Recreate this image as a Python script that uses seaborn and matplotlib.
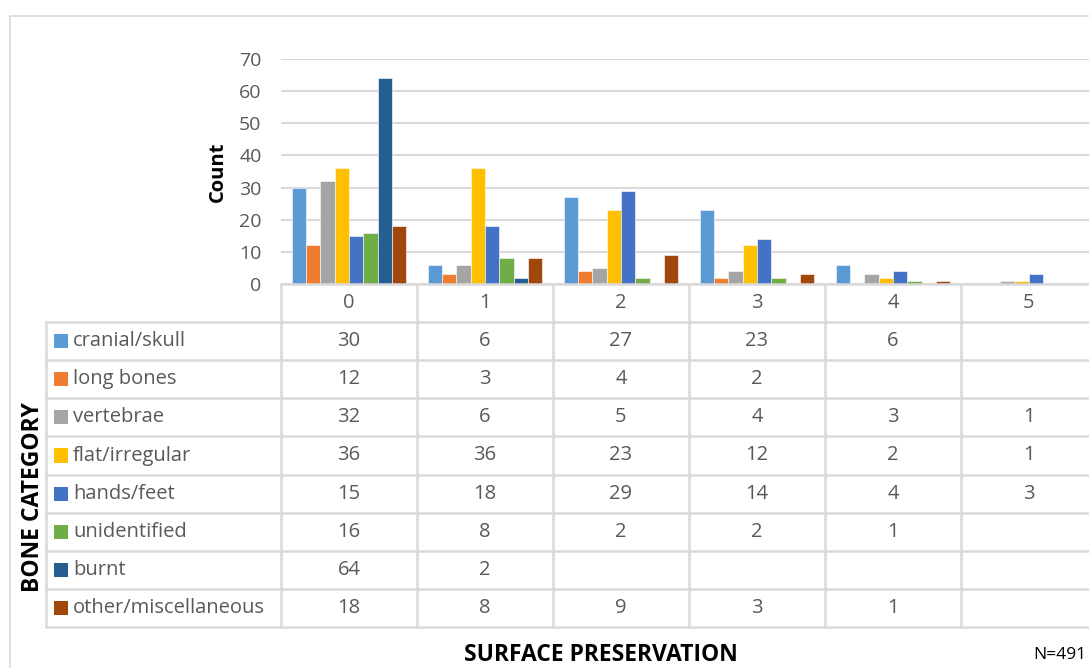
"""
Bone category counts by surface preservation score, bar chart with data table
"""

import matplotlib.pyplot as plt
import seaborn as sns
import numpy as np
import pandas as pd
from matplotlib.patches import Rectangle

# 数据
preservation = ['0', '1', '2', '3', '4', '5']
bone_categories = ['cranial/skull', 'long bones', 'vertebrae', 'flat/irregular',
                   'hands/feet', 'unidentified', 'burnt', 'other/miscellaneous']
cranial_skull = [30, 6, 27, 23, 6, np.nan]
long_bones = [12, 3, 4, 2, np.nan, np.nan]
vertebrae = [32, 6, 5, 4, 3, 1]
flat_irregular = [36, 36, 23, 12, 2, 1]
hands_feet = [15, 18, 29, 14, 4, 3]
unidentified = [16, 8, 2, 2, 1, np.nan]
burnt = [64, 2, np.nan, np.nan, np.nan, np.nan]
other_misc = [18, 8, 9, 3, 1, np.nan]
y_ticks = [0, 10, 20, 30, 40, 50, 60, 70]

series = [cranial_skull, long_bones, vertebrae, flat_irregular,
          hands_feet, unidentified, burnt, other_misc]
colors = ['#5B9BD5', '#ED7D31', '#A5A5A5', '#FFC000',
          '#4472C4', '#70AD47', '#255E91', '#9E480E']

rows = []
for name, vals in zip(bone_categories, series):
    for cat, v in zip(preservation, vals):
        rows.append({'score': cat, 'bone': name, 'count': v})
df = pd.DataFrame(rows)

sns.set_style('white')
plt.rcParams['font.family'] = ['Open Sans', 'DejaVu Sans']
TXT = '#595959'
GRID = '#D9D9D9'

W, H = 1089, 668
fig = plt.figure(figsize=(W / 100, H / 100), dpi=100)

def fx(px):
    return px / W

def fy(py):
    return 1 - py / H

# 外框
fig.patches.append(Rectangle((fx(10), fy(700)), 2, fy(16) - fy(700),
                             transform=fig.transFigure, fill=False,
                             edgecolor=GRID, linewidth=1.2))

# 柱状图
x0, x1 = 281, 1097
ax = fig.add_axes([fx(x0), fy(284), fx(x1) - fx(x0), fy(59) - fy(284)])
sns.barplot(data=df.dropna(), x='score', y='count', hue='bone',
            order=preservation, hue_order=bone_categories, palette=colors,
            saturation=1, width=0.845, gap=0, legend=False, edgecolor='white',
            linewidth=0.4, ax=ax)
ax.set_xlim(-0.5, 5.5)
ax.set_ylim(0, 70)
ax.set_yticks(y_ticks)
ax.set_yticklabels([str(t) for t in y_ticks], fontsize=14, color=TXT)
ax.tick_params(axis='y', length=0, pad=14)
ax.set_xticks([])
ax.set_xlabel('')
ax.set_ylabel('Count', fontsize=14.5, fontweight='bold', color='black', labelpad=8)
ax.grid(axis='y', color=GRID, linewidth=1.5)
ax.set_axisbelow(True)
for s in ax.spines.values():
    s.set_visible(False)
ax.patch.set_alpha(0)

# 数据表
lx = 46
cw = (x1 - x0) / 6
tx0 = -0.5 - (x0 - lx) / cw
tab = fig.add_axes([fx(lx), fy(627), fx(x1) - fx(lx), fy(284) - fy(627)])
tab.set_xlim(tx0, 5.5)
tab.set_ylim(9, 0)
tab.axis('off')

lw = 1.8
# 横线
tab.plot([-0.5, 5.5], [0, 0], color=GRID, lw=lw, clip_on=False)
for r in range(1, 10):
    tab.plot([tx0, 5.5], [r, r], color=GRID, lw=lw, clip_on=False)
# 竖线
tab.plot([tx0, tx0], [1, 9], color=GRID, lw=lw, clip_on=False)
for c in range(6):
    tab.plot([c - 0.5, c - 0.5], [0, 9], color=GRID, lw=lw, clip_on=False)

fs = 14.5
for c, cat in enumerate(preservation):
    tab.text(c, 0.5, cat, ha='center', va='center', fontsize=fs, color=TXT)
for r, (name, vals, col) in enumerate(zip(bone_categories, series, colors)):
    yy = r + 1.5
    tab.add_patch(Rectangle((tx0 + 8 / cw, yy - 7 / 38.1), 14 / cw, 14 / 38.1,
                            facecolor=col, edgecolor='none'))
    tab.text(tx0 + 27 / cw, yy, name, ha='left', va='center',
             fontsize=fs, color=TXT)
    for c, v in enumerate(vals):
        if not np.isnan(v):
            tab.text(c, yy, f'{int(v)}', ha='center', va='center',
                     fontsize=fs, color=TXT)

# 轴标题
fig.text(fx(33), fy(497), 'BONE CATEGORY', rotation=90, ha='center',
         va='center', fontsize=16.5, fontweight='bold', color='black')
fig.text(fx(601), fy(655), 'SURFACE PRESERVATION', ha='center', va='center',
         fontsize=16.5, fontweight='bold', color='black')
fig.text(fx(1086), fy(655), 'N=491', ha='right', va='center',
         fontsize=12.5, color='black')

fig.savefig('out.png', dpi=100)
